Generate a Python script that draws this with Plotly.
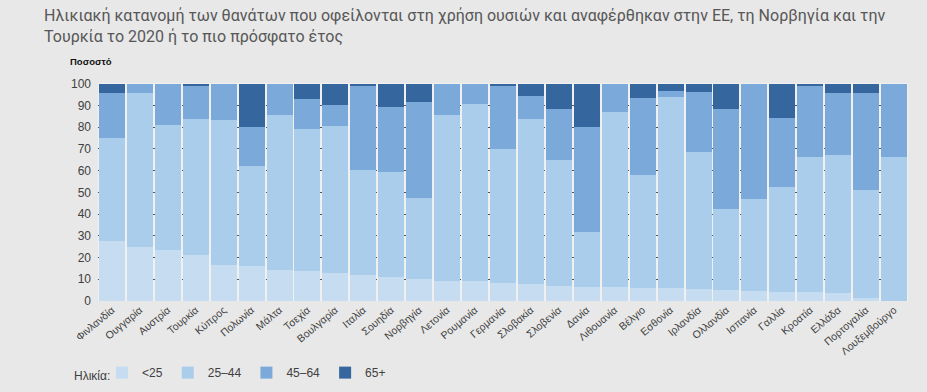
import plotly.graph_objects as go

countries = ["Φινλανδία", "Ουγγαρία", "Αυστρία", "Τουρκία", "Κύπρος", "Πολωνία", "Μάλτα",
             "Τσεχία", "Βουλγαρία", "Ιταλία", "Σουηδία", "Νορβηγία", "Λετονία", "Ρουμανία",
             "Γερμανία", "Σλοβακία", "Σλοβενία", "Δανία", "Λιθουανία", "Βέλγιο", "Εσθονία",
             "Ιρλανδία", "Ολλανδία", "Ισπανία", "Γαλλία", "Κροατία", "Ελλάδα", "Πορτογαλία",
             "Λουξεμβούργο"]

age_lt25 = [27.5, 24.8, 23.4, 21.1, 16.5, 16.1, 14.2, 13.8, 12.9, 11.9, 11.0, 10.1, 9.2, 9.2,
            8.3, 7.8, 6.9, 6.4, 6.4, 6.0, 6.0, 5.5, 5.1, 4.6, 4.1, 4.1, 3.7, 1.4, 0.0]
age_25_44 = [47.4, 70.8, 57.5, 62.5, 66.7, 45.9, 71.3, 65.2, 67.5, 48.3, 48.3, 37.2, 76.3, 81.3,
             61.5, 75.8, 57.9, 25.3, 80.4, 51.9, 87.7, 63.0, 37.2, 42.3, 48.3, 62.1, 63.4, 49.6, 66.2]
age_45_64 = [20.7, 4.4, 19.1, 15.6, 16.8, 17.9, 14.5, 13.8, 9.6, 38.6, 29.8, 44.1, 14.5, 9.5,
             29.4, 10.6, 23.4, 48.2, 13.2, 35.4, 2.8, 27.5, 45.9, 53.1, 31.7, 32.6, 28.5, 44.6, 33.8]
age_65p = [4.4, 0.0, 0.0, 0.8, 0.0, 20.1, 0.0, 7.2, 10.0, 1.2, 10.9, 8.6, 0.0, 0.0,
           0.8, 5.8, 11.8, 20.1, 0.0, 6.7, 3.5, 4.0, 11.8, 0.0, 15.9, 1.2, 4.4, 4.4, 0.0]

series = [("<25", age_lt25, "#c6dcf0"),
          ("25–44", age_25_44, "#abcdec"),
          ("45–64", age_45_64, "#7ba9da"),
          ("65+", age_65p, "#35679e")]

y_ticks = [0, 10, 20, 30, 40, 50, 60, 70, 80, 90, 100]

title_line1 = "Ηλικιακή κατανομή των θανάτων που οφείλονται στη χρήση ουσιών και αναφέρθηκαν στην ΕΕ, τη Νορβηγία και την"
title_line2 = "Τουρκία το 2020 ή το πιο πρόσφατο έτος"

fig = go.Figure()
for name, vals, col in series:
    fig.add_trace(go.Bar(x=countries, y=vals, name=name, marker=dict(color=col, line=dict(width=0))))

title_font = dict(family="Roboto, Liberation Sans, Arial", size=16, color="#575757")

fig.update_layout(
    width=927, height=392,
    barmode="stack", bargap=0.07,
    paper_bgcolor="#e8e8e8", plot_bgcolor="#f0f0f0",
    margin=dict(l=98, r=19, t=83, b=91, autoexpand=False),
    font=dict(family="Liberation Sans, Arial, sans-serif", color="#404040"),
    showlegend=True,
    legend=dict(orientation="h", x=0.005, xanchor="left", y=-0.262, yanchor="top",
                font=dict(size=12, color="#404040"), bgcolor="rgba(0,0,0,0)",
                itemwidth=30, traceorder="normal"),
    annotations=[
        dict(text=title_line1, xref="paper", yref="paper", x=-0.069, xanchor="left",
             y=1.362, yanchor="top", showarrow=False, align="left", font=title_font),
        dict(text=title_line2, xref="paper", yref="paper", x=-0.069, xanchor="left",
             y=1.268, yanchor="top", showarrow=False, align="left", font=title_font),
        dict(text="<b>Ποσοστό</b>", xref="paper", yref="paper", x=-0.037, xanchor="left",
             y=1.065, yanchor="bottom", showarrow=False,
             font=dict(size=9.5, color="#111111")),
        dict(text="Ηλικία:", xref="paper", yref="paper", x=-0.032, xanchor="left",
             y=-0.343, yanchor="middle", showarrow=False,
             font=dict(size=12, color="#404040")),
    ],
)
fig.update_xaxes(tickangle=-40, tickfont=dict(size=10.5, color="#404040"), showgrid=False,
                 range=[-0.5, len(countries) - 0.5], ticks="", automargin=False)
fig.update_yaxes(range=[0, 100.3], tickvals=y_ticks, tickfont=dict(size=12, color="#404040"),
                 showgrid=True, gridcolor="#555555", griddash="dot", gridwidth=1,
                 zeroline=False, ticks="", ticklabelstandoff=6, automargin=False)

fig.write_html("out.html", config={"displayModeBar": False},
               post_script="document.body.style.margin='0';document.body.style.background='#e8e8e8';")
